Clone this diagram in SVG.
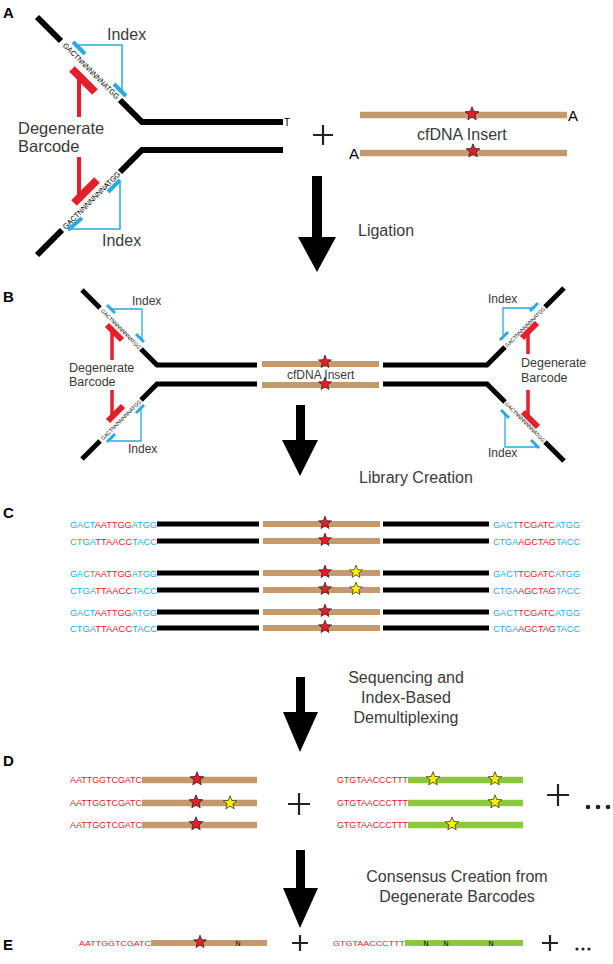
<svg xmlns="http://www.w3.org/2000/svg" width="613" height="964" viewBox="0 0 613 964">
<style>
.lbl{font-family:"Liberation Sans",Arial,sans-serif;font-weight:bold;font-size:15px;fill:#000}
.t{font-family:"Liberation Sans",Arial,sans-serif;fill:#3a3a3a}
.seq{font-family:"Liberation Sans",Arial,sans-serif;fill:#000}
.blk{stroke:#000;fill:none;stroke-linecap:butt;stroke-linejoin:miter}
.brn{stroke:#c49a6c;fill:none}
.grn{stroke:#8dc63f;fill:none}
.bl{stroke:#29abe2;fill:none}
.rd{stroke:#e3202a;fill:none}
.b{fill:#29abe2}
.r{fill:#e3202a}
.rs{fill:#e3202a;stroke:#3a1a1a;stroke-width:0.9}
.ys{fill:#fff200;stroke:#3a3a1a;stroke-width:0.9}
.plus{stroke:#222;stroke-width:2.2;fill:none}
.arrow{fill:#000}
</style>
<defs>
<path id="star" d="M0,-8 L2,-2.75 L7.61,-2.47 L3.23,1.05 L4.7,6.47 L0,3.4 L-4.7,6.47 L-3.23,1.05 L-7.61,-2.47 L-2,-2.75 Z"/>
</defs>

<!-- Panel labels -->
<g id="labels">
<text class="lbl" x="3" y="18">A</text>
<text class="lbl" x="3" y="302">B</text>
<text class="lbl" x="3" y="518">C</text>
<text class="lbl" x="3" y="766">D</text>
<text class="lbl" x="3" y="950">E</text>
</g>

<!-- Panel A adapter -->
<g id="a-adapter">
<polyline class="blk" stroke-width="6" points="37,17 61,41"/>
<polyline class="blk" stroke-width="6" points="120,100 142,122 283,122"/>
<polyline class="blk" stroke-width="6" points="283,150 142,150 120,172"/>
<polyline class="blk" stroke-width="6" points="62,230 37,255"/>
<text class="seq" font-size="7.5" text-anchor="middle" dominant-baseline="central" textLength="76" lengthAdjust="spacingAndGlyphs" transform="translate(91,71) rotate(45)">GACTNNNNNNNATGG</text>
<text class="seq" font-size="7.5" text-anchor="middle" dominant-baseline="central" textLength="78" lengthAdjust="spacingAndGlyphs" transform="translate(91.5,200.5) rotate(-45)">GACTNNNNNNNATGG</text>
<text class="seq" font-size="10" x="284" y="126">T</text>
<!-- top index -->
<line class="bl" stroke-width="4" x1="73" y1="42" x2="85" y2="54"/>
<line class="bl" stroke-width="4" x1="114" y1="84" x2="126" y2="96"/>
<polyline class="bl" stroke-width="1.5" points="77,45 122,45 122,91"/>
<!-- bottom index -->
<line class="bl" stroke-width="4" x1="108" y1="192" x2="120" y2="180"/>
<line class="bl" stroke-width="4" x1="68" y1="230" x2="82" y2="218"/>
<polyline class="bl" stroke-width="1.5" points="120,182 120,229 71,229"/>
<!-- barcodes -->
<line class="rd" stroke-width="8" x1="72" y1="69" x2="95" y2="92"/>
<line class="rd" stroke-width="4" x1="79" y1="76" x2="79" y2="117"/>
<line class="rd" stroke-width="8" x1="74" y1="203" x2="97" y2="180"/>
<line class="rd" stroke-width="4" x1="79" y1="157" x2="79" y2="197"/>
<text class="t" font-size="16" x="107" y="40">Index</text>
<text class="t" font-size="16" x="102" y="246">Index</text>
<text class="t" font-size="16.5" x="18" y="134">Degenerate</text>
<text class="t" font-size="16.5" x="18" y="152">Barcode</text>
</g>

<g id="a-plus"><path class="plus" d="M313,135 H333 M323,125 V145"/></g>

<g id="a-insert">
<line class="brn" stroke-width="6.5" x1="360" y1="115" x2="567" y2="115"/>
<line class="brn" stroke-width="6.5" x1="360" y1="153" x2="567" y2="153"/>
<use href="#star" class="rs" transform="translate(472,114) scale(0.9)"/>
<use href="#star" class="rs" transform="translate(473,151) scale(0.9)"/>
<text class="seq" font-size="15" x="568" y="121">A</text>
<text class="seq" font-size="15" x="349" y="159">A</text>
<text class="t" font-size="16" x="417" y="140">cfDNA Insert</text>
</g>

<g id="connectors">
<path class="arrow" d="M312,176 H322 V237 H336 L317,272 L298,237 H312 Z"/>
<path class="arrow" d="M296,405 H305 V440 H318 L300,476 L282,440 H296 Z"/>
<path class="arrow" d="M296,677 H305 V712 H318 L300,752 L283,712 H296 Z"/>
<path class="arrow" d="M296,850 H305 V888 H318 L300,928 L283,888 H296 Z"/>
</g>
<text class="t" font-size="16" x="358" y="236">Ligation</text>
<text class="t" font-size="16" x="359" y="483">Library Creation</text>
<g class="t" font-size="16" text-anchor="middle">
<text x="406" y="683">Sequencing and</text>
<text x="406" y="703">Index-Based</text>
<text x="406" y="723">Demultiplexing</text>
<text x="457" y="882">Consensus Creation from</text>
<text x="457" y="902">Degenerate Barcodes</text>
</g>

<!-- Panel B -->
<g id="b-left-adapter">
<polyline class="blk" stroke-width="5" points="82,290 100,308"/>
<polyline class="blk" stroke-width="5" points="141,349 157,365 257,365"/>
<polyline class="blk" stroke-width="5" points="257,384 157,384 141,400"/>
<polyline class="blk" stroke-width="5" points="100,441 82,459"/>
<text class="seq" font-size="5.5" text-anchor="middle" dominant-baseline="central" textLength="54" lengthAdjust="spacingAndGlyphs" transform="translate(121,329) rotate(45)">GACTNNNNNNNATGG</text>
<text class="seq" font-size="5.5" text-anchor="middle" dominant-baseline="central" textLength="54" lengthAdjust="spacingAndGlyphs" transform="translate(121,420) rotate(-45)">GACTNNNNNNNATGG</text>
<line class="bl" stroke-width="3" x1="107" y1="305" x2="115" y2="313"/>
<line class="bl" stroke-width="3" x1="136" y1="334" x2="144" y2="342"/>
<polyline class="bl" stroke-width="1.3" points="111,309 142,309 142,340"/>
<line class="bl" stroke-width="3" x1="136" y1="413" x2="144" y2="405"/>
<line class="bl" stroke-width="3" x1="107" y1="442" x2="115" y2="434"/>
<polyline class="bl" stroke-width="1.3" points="141,407 141,441 110,441"/>
<line class="rd" stroke-width="6" x1="107" y1="325" x2="122" y2="340"/>
<line class="rd" stroke-width="3.5" x1="112" y1="330" x2="112" y2="360"/>
<line class="rd" stroke-width="6" x1="108" y1="421" x2="123" y2="406"/>
<line class="rd" stroke-width="3.5" x1="112" y1="390" x2="112" y2="418"/>
<text class="t" font-size="12" x="132" y="305">Index</text>
<text class="t" font-size="12" x="128" y="453">Index</text>
<text class="t" font-size="12.5" x="69" y="372">Degenerate</text>
<text class="t" font-size="12.5" x="69" y="386">Barcode</text>
</g>

<g id="b-insert">
<line class="brn" stroke-width="6" x1="262" y1="364" x2="379" y2="364"/>
<line class="brn" stroke-width="6" x1="262" y1="385" x2="379" y2="385"/>
<text class="t" font-size="12" x="287" y="379">cfDNA Insert</text>
<use href="#star" class="rs" transform="translate(325,362) scale(0.85)"/>
<use href="#star" class="rs" transform="translate(325,384) scale(0.85)"/>
</g>

<g id="b-right-adapter">
<polyline class="blk" stroke-width="5" points="564,288 545,307"/>
<polyline class="blk" stroke-width="5" points="505,347 487,365 383,365"/>
<polyline class="blk" stroke-width="5" points="383,384 487,384 505,402"/>
<polyline class="blk" stroke-width="5" points="545,442 564,461"/>
<text class="seq" font-size="5.5" text-anchor="middle" dominant-baseline="central" textLength="54" lengthAdjust="spacingAndGlyphs" transform="translate(525,327) rotate(-45)">GACTNNNNNNNATGG</text>
<text class="seq" font-size="5.5" text-anchor="middle" dominant-baseline="central" textLength="54" lengthAdjust="spacingAndGlyphs" transform="translate(525,422) rotate(45)">GACTNNNNNNNATGG</text>
<line class="bl" stroke-width="3" x1="500" y1="340" x2="508" y2="332"/>
<line class="bl" stroke-width="3" x1="530" y1="311" x2="538" y2="303"/>
<polyline class="bl" stroke-width="1.3" points="503,335 503,308 535,308"/>
<line class="bl" stroke-width="3" x1="501" y1="410" x2="509" y2="418"/>
<line class="bl" stroke-width="3" x1="531" y1="440" x2="539" y2="448"/>
<polyline class="bl" stroke-width="1.3" points="505,412 505,447 538,447"/>
<line class="rd" stroke-width="6" x1="522" y1="338" x2="537" y2="323"/>
<line class="rd" stroke-width="3.5" x1="528" y1="330" x2="528" y2="354"/>
<line class="rd" stroke-width="6" x1="523" y1="412" x2="538" y2="427"/>
<line class="rd" stroke-width="3.5" x1="528" y1="390" x2="528" y2="418"/>
<text class="t" font-size="12" x="488" y="303">Index</text>
<text class="t" font-size="12" x="488" y="457">Index</text>
<text class="t" font-size="12.5" x="521" y="367">Degenerate</text>
<text class="t" font-size="12.5" x="521" y="382">Barcode</text>
</g>

<!-- Panel C -->
<g id="c-rows" font-family="'Liberation Sans',Arial,sans-serif" font-size="9.5">
<g id="c-row1">
<text x="70" y="527.5" textLength="87" lengthAdjust="spacingAndGlyphs"><tspan class="b">GACT</tspan><tspan class="r">AATTGG</tspan><tspan class="b">ATGG</tspan></text>
<line class="blk" stroke-width="5" x1="157" y1="524" x2="259" y2="524"/>
<line class="brn" stroke-width="6" x1="263" y1="524" x2="380" y2="524"/>
<line class="blk" stroke-width="5" x1="383" y1="524" x2="489" y2="524"/>
<text x="493" y="527.5" textLength="87" lengthAdjust="spacingAndGlyphs"><tspan class="b">GACT</tspan><tspan class="r">TCGATC</tspan><tspan class="b">ATGG</tspan></text>
<use href="#star" class="rs" transform="translate(325,523) scale(0.85)"/>
</g>
<g id="c-row2">
<text x="70" y="544.5" textLength="87" lengthAdjust="spacingAndGlyphs"><tspan class="b">CTGA</tspan><tspan class="r">TTAACC</tspan><tspan class="b">TACC</tspan></text>
<line class="blk" stroke-width="5" x1="157" y1="541" x2="259" y2="541"/>
<line class="brn" stroke-width="6" x1="263" y1="541" x2="380" y2="541"/>
<line class="blk" stroke-width="5" x1="383" y1="541" x2="489" y2="541"/>
<text x="493" y="544.5" textLength="87" lengthAdjust="spacingAndGlyphs"><tspan class="b">CTGA</tspan><tspan class="r">AGCTAG</tspan><tspan class="b">TACC</tspan></text>
<use href="#star" class="rs" transform="translate(325,540) scale(0.85)"/>
</g>
<g id="c-row3">
<text x="70" y="576.5" textLength="87" lengthAdjust="spacingAndGlyphs"><tspan class="b">GACT</tspan><tspan class="r">AATTGG</tspan><tspan class="b">ATGG</tspan></text>
<line class="blk" stroke-width="5" x1="157" y1="573" x2="259" y2="573"/>
<line class="brn" stroke-width="6" x1="263" y1="573" x2="380" y2="573"/>
<line class="blk" stroke-width="5" x1="383" y1="573" x2="489" y2="573"/>
<text x="493" y="576.5" textLength="87" lengthAdjust="spacingAndGlyphs"><tspan class="b">GACT</tspan><tspan class="r">TCGATC</tspan><tspan class="b">ATGG</tspan></text>
<use href="#star" class="rs" transform="translate(325,572) scale(0.85)"/>
<use href="#star" class="ys" transform="translate(356,572) scale(0.85)"/>
</g>
<g id="c-row4">
<text x="70" y="593.5" textLength="87" lengthAdjust="spacingAndGlyphs"><tspan class="b">CTGA</tspan><tspan class="r">TTAACC</tspan><tspan class="b">TACC</tspan></text>
<line class="blk" stroke-width="5" x1="157" y1="590" x2="259" y2="590"/>
<line class="brn" stroke-width="6" x1="263" y1="590" x2="380" y2="590"/>
<line class="blk" stroke-width="5" x1="383" y1="590" x2="489" y2="590"/>
<text x="493" y="593.5" textLength="87" lengthAdjust="spacingAndGlyphs"><tspan class="b">CTGA</tspan><tspan class="r">AGCTAG</tspan><tspan class="b">TACC</tspan></text>
<use href="#star" class="rs" transform="translate(325,589) scale(0.85)"/>
<use href="#star" class="ys" transform="translate(356,589) scale(0.85)"/>
</g>
<g id="c-row5">
<text x="70" y="615.5" textLength="87" lengthAdjust="spacingAndGlyphs"><tspan class="b">GACT</tspan><tspan class="r">AATTGG</tspan><tspan class="b">ATGG</tspan></text>
<line class="blk" stroke-width="5" x1="157" y1="612" x2="259" y2="612"/>
<line class="brn" stroke-width="6" x1="263" y1="612" x2="380" y2="612"/>
<line class="blk" stroke-width="5" x1="383" y1="612" x2="489" y2="612"/>
<text x="493" y="615.5" textLength="87" lengthAdjust="spacingAndGlyphs"><tspan class="b">GACT</tspan><tspan class="r">TCGATC</tspan><tspan class="b">ATGG</tspan></text>
<use href="#star" class="rs" transform="translate(325,611) scale(0.85)"/>
</g>
<g id="c-row6">
<text x="70" y="631.5" textLength="87" lengthAdjust="spacingAndGlyphs"><tspan class="b">CTGA</tspan><tspan class="r">TTAACC</tspan><tspan class="b">TACC</tspan></text>
<line class="blk" stroke-width="5" x1="157" y1="628" x2="259" y2="628"/>
<line class="brn" stroke-width="6" x1="263" y1="628" x2="380" y2="628"/>
<line class="blk" stroke-width="5" x1="383" y1="628" x2="489" y2="628"/>
<text x="493" y="631.5" textLength="87" lengthAdjust="spacingAndGlyphs"><tspan class="b">CTGA</tspan><tspan class="r">AGCTAG</tspan><tspan class="b">TACC</tspan></text>
<use href="#star" class="rs" transform="translate(325,627) scale(0.85)"/>
</g>
</g>

<!-- Panel D -->
<g id="d-brown" font-family="'Liberation Sans',Arial,sans-serif" font-size="9">
<text class="r" x="70" y="783" textLength="72" lengthAdjust="spacingAndGlyphs">AATTGGTCGATC</text>
<line class="brn" stroke-width="6.5" x1="142" y1="780" x2="257" y2="780"/>
<use href="#star" class="rs" transform="translate(197,779) scale(0.9)"/>
<text class="r" x="70" y="806" textLength="72" lengthAdjust="spacingAndGlyphs">AATTGGTCGATC</text>
<line class="brn" stroke-width="6.5" x1="142" y1="803" x2="257" y2="803"/>
<use href="#star" class="rs" transform="translate(196,802) scale(0.9)"/>
<use href="#star" class="ys" transform="translate(230,803) scale(0.9)"/>
<text class="r" x="70" y="828" textLength="72" lengthAdjust="spacingAndGlyphs">AATTGGTCGATC</text>
<line class="brn" stroke-width="6.5" x1="142" y1="825" x2="257" y2="825"/>
<use href="#star" class="rs" transform="translate(196,824) scale(0.9)"/>
</g>
<g id="d-plus1"><path class="plus" d="M288,804 H310 M299,793 V815"/></g>
<g id="d-green" font-family="'Liberation Sans',Arial,sans-serif" font-size="9">
<text class="r" x="337" y="783" textLength="71" lengthAdjust="spacingAndGlyphs">GTGTAACCCTTT</text>
<line class="grn" stroke-width="6.5" x1="408" y1="780" x2="523" y2="780"/>
<use href="#star" class="ys" transform="translate(433,779) scale(0.9)"/>
<use href="#star" class="ys" transform="translate(495,779) scale(0.9)"/>
<text class="r" x="337" y="806" textLength="71" lengthAdjust="spacingAndGlyphs">GTGTAACCCTTT</text>
<line class="grn" stroke-width="6.5" x1="408" y1="803" x2="523" y2="803"/>
<use href="#star" class="ys" transform="translate(495,802) scale(0.9)"/>
<text class="r" x="337" y="828" textLength="71" lengthAdjust="spacingAndGlyphs">GTGTAACCCTTT</text>
<line class="grn" stroke-width="6.5" x1="408" y1="825" x2="523" y2="825"/>
<use href="#star" class="ys" transform="translate(452,824) scale(0.9)"/>
</g>
<g id="d-plus2"><path class="plus" d="M547,795 H569 M558,784 V806"/></g>
<g id="d-dots" fill="#222"><circle cx="588" cy="807" r="2.3"/><circle cx="598" cy="807" r="2.3"/><circle cx="608" cy="807" r="2.3"/></g>

<!-- Panel E -->
<g id="e-brown" font-family="'Liberation Sans',Arial,sans-serif">
<text class="r" font-size="8" x="79" y="946" textLength="72" lengthAdjust="spacingAndGlyphs">AATTGGTCGATC</text>
<line class="brn" stroke-width="6" x1="151" y1="943" x2="267" y2="943"/>
<use href="#star" class="rs" transform="translate(200,942) scale(0.85)"/>
<text class="seq" font-size="7" x="238" y="945.5" text-anchor="middle">N</text>
</g>
<g id="e-plus1"><path class="plus" d="M292,943 H308 M300,935 V951"/></g>
<g id="e-green" font-family="'Liberation Sans',Arial,sans-serif">
<text class="r" font-size="8" x="333" y="946" textLength="72" lengthAdjust="spacingAndGlyphs">GTGTAACCCTTT</text>
<line class="grn" stroke-width="6" x1="405" y1="943" x2="523" y2="943"/>
<text class="seq" font-size="7" x="426" y="945.5" text-anchor="middle">N</text>
<text class="seq" font-size="7" x="446" y="945.5" text-anchor="middle">N</text>
<text class="seq" font-size="7" x="491" y="945.5" text-anchor="middle">N</text>
</g>
<g id="e-plus2"><path class="plus" d="M542,943 H558 M550,935 V951"/></g>
<g id="e-dots" fill="#222"><circle cx="577" cy="949" r="1.6"/><circle cx="583" cy="949" r="1.6"/><circle cx="589" cy="949" r="1.6"/></g>
</svg>
